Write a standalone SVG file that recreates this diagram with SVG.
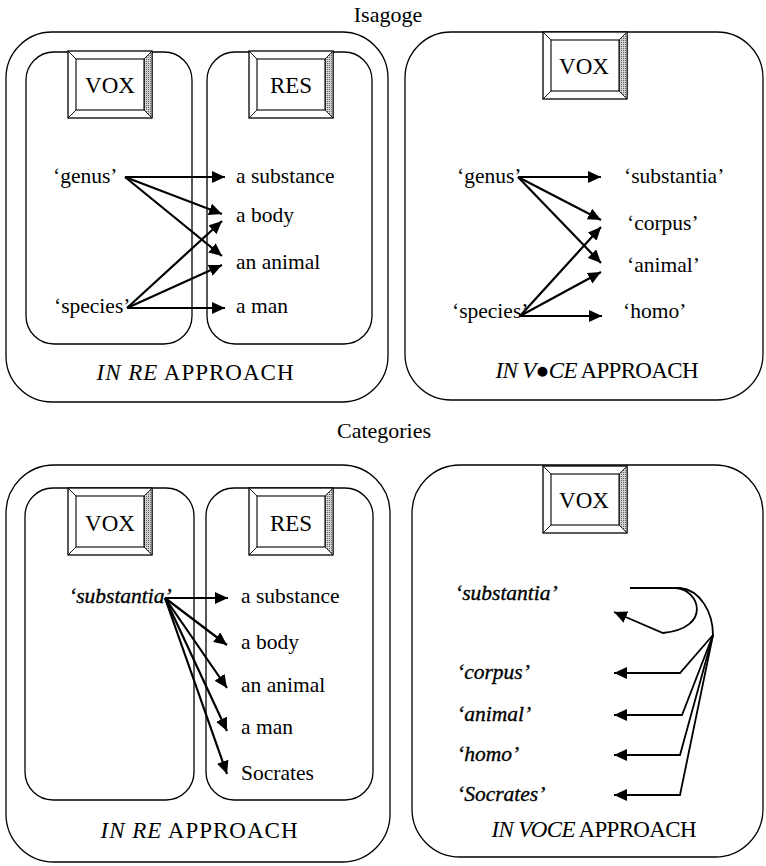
<svg xmlns="http://www.w3.org/2000/svg" width="766" height="866" viewBox="0 0 766 866" font-family="'Liberation Serif', 'Times New Roman', serif">
<style>
  .panel{fill:none;stroke:#000;stroke-width:1.3}
  .item{font-family:"Liberation Serif","Times New Roman",serif;font-size:21.5px;fill:#000}
  .itemi{font-family:"Liberation Serif","Times New Roman",serif;font-size:21.5px;font-style:italic;fill:#000;stroke:#000;stroke-width:0.35}
  .title{font-size:22px;fill:#000;text-anchor:middle}
  .lab{font-size:23px;fill:#000}
  .box{font-size:23px;fill:#000;text-anchor:middle}
  .arr{fill:none;stroke:#000;stroke-width:2.2;marker-end:url(#ah)}
  .ln{fill:none;stroke:#000;stroke-width:1.8}
  .arr2{fill:none;stroke:#000;stroke-width:1.8;marker-end:url(#ah)}
</style>
<defs>
  <marker id="ah" markerUnits="userSpaceOnUse" markerWidth="14" markerHeight="12" refX="13" refY="6" orient="auto">
    <path d="M0,0 L13,6 L0,12 z" fill="#000"/>
  </marker>
  <pattern id="stip" width="2" height="2" patternUnits="userSpaceOnUse">
    <rect width="2" height="2" fill="#d0d0d0"/>
    <rect width="1" height="1" fill="#666"/>
  </pattern>
  <g id="bevel">
    <rect x="0" y="0" width="84" height="67" fill="#fff" stroke="#000" stroke-width="1.3"/>
    <path d="M84,0 L76,8 L76,59 L84,67 z" fill="url(#stip)" stroke="#000" stroke-width="0.8"/>
    <rect x="8" y="8" width="68" height="51" fill="#fff" stroke="#000" stroke-width="1.1"/>
    <path d="M0,0 L8,8 M0,67 L8,59" stroke="#000" stroke-width="0.9"/>
  </g>
</defs>
<rect width="766" height="866" fill="#fff"/>

<g font-family="'Liberation Serif', 'Times New Roman', serif">
<text class="title" x="388" y="22">Isagoge</text>
<text class="title" x="384" y="438">Categories</text>

<g id="isagoge-inre">
  <rect class="panel" x="6" y="32" width="382" height="370" rx="46"/>
  <text class="lab" x="195" y="380" text-anchor="middle" textLength="197"><tspan font-style="italic">IN RE</tspan> APPROACH</text>
</g>
<g id="isagoge-inre-vox">
  <rect class="panel" x="26" y="52" width="166" height="292" rx="28"/>
  <use href="#bevel" x="68" y="51"/>
  <text class="box" x="110" y="93">VOX</text>
  <text class="item" x="53" y="183">‘genus’</text>
  <text class="item" x="54" y="313">‘species’</text>
</g>
<g id="isagoge-inre-res">
  <rect class="panel" x="207" y="52" width="165" height="292" rx="28"/>
  <use href="#bevel" x="249" y="51"/>
  <text class="box" x="291" y="93">RES</text>
  <text class="item" x="236" y="183">a substance</text>
  <text class="item" x="236" y="222">a body</text>
  <text class="item" x="236" y="269">an animal</text>
  <text class="item" x="236" y="313">a man</text>
</g>

<g id="isagoge-invoce">
  <rect class="panel" x="405" y="32" width="358" height="368" rx="46"/>
  <use href="#bevel" x="543" y="32"/>
  <text class="box" x="584" y="74">VOX</text>
  <text class="item" x="457" y="183">‘genus’</text>
  <text class="item" x="452" y="318">‘species’</text>
  <text class="item" x="624" y="183">‘substantia’</text>
  <text class="item" x="627" y="230">‘corpus’</text>
  <text class="item" x="627" y="272">‘animal’</text>
  <text class="item" x="623" y="318">‘homo’</text>
  <text class="lab" x="597" y="378" text-anchor="middle" textLength="203"><tspan font-style="italic">IN V●CE</tspan> APPROACH</text>
</g>

<g id="categories-inre">
  <rect class="panel" x="6" y="465" width="384" height="397" rx="48"/>
  <text class="lab" x="199" y="838" text-anchor="middle" textLength="197"><tspan font-style="italic">IN RE</tspan> APPROACH</text>
</g>
<g id="categories-inre-vox">
  <rect class="panel" x="25" y="488" width="169" height="312" rx="28"/>
  <use href="#bevel" x="68" y="488"/>
  <text class="box" x="110" y="531">VOX</text>
  <text class="itemi" x="69" y="603">‘substantia’</text>
</g>
<g id="categories-inre-res">
  <rect class="panel" x="206" y="488" width="167" height="312" rx="28"/>
  <use href="#bevel" x="249" y="488"/>
  <text class="box" x="291" y="531">RES</text>
  <text class="item" x="241" y="603">a substance</text>
  <text class="item" x="241" y="649">a body</text>
  <text class="item" x="241" y="692">an animal</text>
  <text class="item" x="241" y="734">a man</text>
  <text class="item" x="241" y="780">Socrates</text>
</g>

<g id="categories-invoce">
  <rect class="panel" x="412" y="465" width="351" height="392" rx="48"/>
  <use href="#bevel" x="543" y="466"/>
  <text class="box" x="584" y="508">VOX</text>
  <text class="itemi" x="455" y="600">‘substantia’</text>
  <text class="itemi" x="457" y="679">‘corpus’</text>
  <text class="itemi" x="457" y="721">‘animal’</text>
  <text class="itemi" x="457" y="761">‘homo’</text>
  <text class="itemi" x="457" y="801">‘Socrates’</text>
  <text class="lab" x="594" y="837" text-anchor="middle" textLength="205"><tspan font-style="italic">IN VOCE</tspan> APPROACH</text>
</g>
</g>

<g id="connectors">
  <path class="arr" d="M125,177 L225,177"/>
  <path class="arr" d="M125,177 L222,214"/>
  <path class="arr" d="M125,177 L222,256"/>
  <path class="arr" d="M127,308 L222,221"/>
  <path class="arr" d="M127,308 L222,265"/>
  <path class="arr" d="M127,308 L225,308"/>
  <path class="arr" d="M518,177 L601,177"/>
  <path class="arr" d="M518,177 L601,220"/>
  <path class="arr" d="M518,177 L601,263"/>
  <path class="arr" d="M520,316 L601,227"/>
  <path class="arr" d="M520,316 L601,272"/>
  <path class="arr" d="M520,316 L602,316"/>
  <path class="arr" d="M165,598 L228,598"/>
  <path class="arr" d="M165,598 L227,645"/>
  <path class="arr" d="M165,598 L227,688"/>
  <path class="arr" d="M165,598 L227,731"/>
  <path class="arr" d="M165,598 L227,774"/>
  <path class="ln" d="M630,588 L680,588 C700,590 713,612 713,635"/>
  <path class="arr2" d="M676,588 C700,590 712,628 663,633 L614,612"/>
  <path class="arr2" d="M713,635 L680,673 L614,673"/>
  <path class="arr2" d="M713,635 L682,715 L614,715"/>
  <path class="arr2" d="M713,635 L680,755 L614,755"/>
  <path class="arr2" d="M713,635 L680,795 L614,795"/>
</g>
</svg>
